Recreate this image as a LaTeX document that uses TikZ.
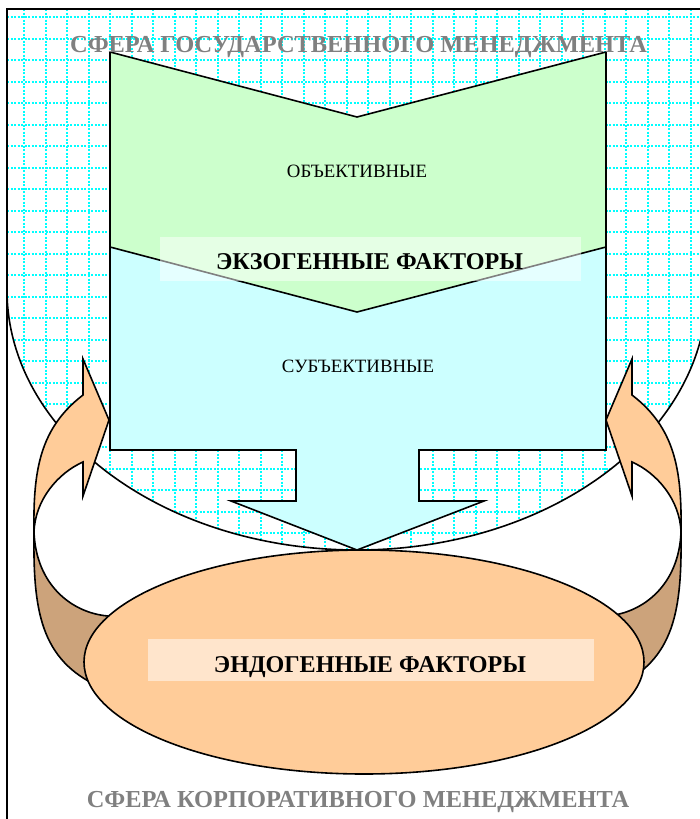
\documentclass[tikz,border=0pt]{standalone}
\usepackage{fontspec}
\setmainfont{Liberation Serif}
\definecolor{greenfill}{HTML}{CCFFCC}
\definecolor{cyanfill}{HTML}{CCFFFF}
\definecolor{peach}{HTML}{FFCC99}
\definecolor{tanfill}{HTML}{CCA37B}
\definecolor{gridcyan}{HTML}{00FFFF}
\definecolor{titlegray}{HTML}{808080}
\newcommand\hatchregion{(7,9) -- (707,9) -- (707,290) arc[start angle=0,end angle=180,x radius=350,y radius=260] -- cycle}
\newcommand\sidearrow{%
  \draw[outl,fill=tanfill] (34,532) .. controls (33,610) and (40,660) .. (100,687) -- (125,645) -- (108,616) .. controls (72,613) and (36,585) .. (34,532) -- cycle;
  \draw[outl,fill=peach] (34,532) .. controls (33,470) and (40,428) .. (83,395) -- (83,359) -- (109,420) -- (83,496) -- (83,462) .. controls (58,473) and (35,500) .. (34,532) -- cycle;
}
\begin{document}
\begin{tikzpicture}[x=1pt,y=-1pt,
  outl/.style={draw=black,line width=1.6pt,line join=miter},
  gridline/.style={draw=gridcyan,line width=2pt,dash pattern=on 2pt off 1.5pt},
  titletext/.style={anchor=base,inner sep=0pt,text=titlegray,font=\fontsize{24.4}{26}\selectfont\bfseries},
  boldlabel/.style={anchor=base,inner sep=0pt,text=black,font=\fontsize{24.1}{26}\selectfont\bfseries},
  smalllabel/.style={anchor=base,inner sep=0pt,text=black,font=\fontsize{18.8}{20}\selectfont},
  glassbox/.style={fill=white,fill opacity=0.5,draw=none}]
\useasboundingbox (0,0) rectangle (699,819);
% hatched sphere of state management
\fill[white] \hatchregion;
\begin{scope}
  \clip \hatchregion;
  \foreach \i in {0,...,32} {\pgfmathsetmacro\gx{round(24+21.5*\i)}
    \draw[gridline] (\gx,9) -- (\gx,560);}
  \foreach \j in {0,...,25} {\pgfmathsetmacro\gy{round(17+21.5*\j)}
    \draw[gridline] (7,\gy) -- (710,\gy);}
\end{scope}
\draw[outl] (707,290) arc[start angle=0,end angle=180,x radius=350,y radius=260];
% subjective (cyan) arrow
\draw[outl,fill=cyanfill] (110,247) -- (606,247) -- (606,450) -- (419,450) -- (419,501) -- (484,501) -- (357,550) -- (231,501) -- (296,501) -- (296,450) -- (110,450) -- cycle;
% objective (green) chevron
\draw[outl,fill=greenfill] (110,52) -- (357,117) -- (606,52) -- (606,247) -- (357,312) -- (110,247) -- cycle;
% curved side arrows
\sidearrow
\begin{scope}[xshift=715pt,xscale=-1]
  \sidearrow
\end{scope}
% endogenous ellipse
\draw[outl,fill=peach] (364,662) ellipse [x radius=280,y radius=112];
% labels
\node[smalllabel] (obj) at (357,177) {ОБЪЕКТИВНЫЕ};
\node[smalllabel] (subj) at (358,372) {СУБЪЕКТИВНЫЕ};
\fill[glassbox] (160,237) rectangle (581,281);
\node[boldlabel] (exo) at (369.5,269) {ЭКЗОГЕННЫЕ ФАКТОРЫ};
\fill[glassbox] (148,639) rectangle (594,681);
\node[boldlabel] (endo) at (370,672) {ЭНДОГЕННЫЕ ФАКТОРЫ};
% frame
\draw[line width=2.2pt] (7,830) -- (7,9) -- (712,9);
% titles
\node[titletext] (state) at (358.5,52) {СФЕРА ГОСУДАРСТВЕННОГО МЕНЕДЖМЕНТА};
\node[titletext] (corp) at (358,807) {СФЕРА КОРПОРАТИВНОГО МЕНЕДЖМЕНТА};
\end{tikzpicture}
\end{document}
